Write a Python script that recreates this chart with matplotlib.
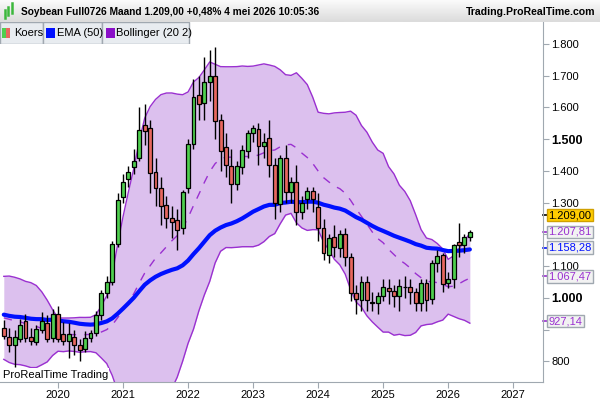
import numpy as np
import pandas as pd
import matplotlib
matplotlib.use("Agg")
import matplotlib.pyplot as plt
from matplotlib.patches import Rectangle

plt.rcParams["font.family"] = ["Liberation Sans", "DejaVu Sans"]

# monthly candles Mar 2019 .. May 2026
opens = [906,878,850,871,928,877,862,900,920,875,948,887,865,878,850,838,875,890,946,1016,
         1050,1170,1317,1373,1411,1442,1546,1536,1395,1345,1292,1251,1245,1220,1345,1486,1640,1615,1680,1700,
         1560,1474,1414,1360,1411,1464,1518,1533,1477,1505,1417,1295,1440,1333,1364,1270,1310,1336,1285,1220,
         1135,1191,1157,1200,1129,1016,994,1050,988,985,1006,1030,1022,1006,1033,1035,1019,985,1047,997,
         1110,1135,1047,1060,1175,1166,1191]
closes = [881,850,877,915,875,865,902,928,870,950,872,865,885,850,837,875,890,946,1016,1050,
          1170,1307,1364,1398,1430,1530,1527,1392,1345,1289,1251,1240,1213,1333,1486,1634,1612,1680,1700,1558,
          1464,1420,1360,1414,1467,1518,1536,1477,1490,1417,1298,1440,1335,1364,1270,1300,1336,1310,1220,1140,
          1188,1160,1200,1129,1016,997,1050,994,985,1006,1035,1022,1006,1036,1034,1020,985,1047,994,1110,
          1132,1044,1060,1166,1166,1191,1209]
highs = [930,905,900,935,950,905,915,955,945,965,975,925,920,900,870,895,900,960,1025,1070,
         1180,1330,1390,1415,1470,1600,1610,1560,1440,1380,1320,1290,1280,1340,1500,1690,1700,1760,1780,1790,
         1580,1520,1470,1430,1480,1530,1545,1550,1520,1560,1440,1450,1480,1380,1420,1320,1350,1350,1330,1250,
         1200,1230,1215,1220,1140,1040,1070,1070,1020,1020,1060,1060,1040,1060,1070,1060,1030,1060,1060,1120,
         1150,1140,1080,1170,1235,1200,1215]
lows = [870,830,783,860,860,850,850,890,860,860,860,850,810,820,800,830,860,880,930,1000,
        1040,1160,1300,1350,1390,1430,1480,1330,1290,1230,1220,1190,1150,1200,1330,1470,1560,1560,1620,1500,
        1400,1380,1300,1340,1390,1440,1490,1420,1440,1380,1250,1270,1300,1300,1230,1250,1280,1270,1180,1120,
        1110,1130,1130,1100,990,950,960,960,960,950,990,980,970,960,1000,980,960,960,960,980,
        1080,1020,1030,1030,1130,1140,1180]
# earlier monthly closes (Mar 2015 .. Feb 2019), only used to warm up the indicators
history_closes = [970,960,930,1040,960,890,890,900,870,890,
                  880,870,910,1010,1080,1170,1020,990,950,990,990,1000,
                  1020,1040,950,960,920,1000,960,940,970,980,990,960,
                  990,1040,1040,1050,1000,880,860,860,850,860,880,900,
                  910,900]
# last indicator values as shown on the right-hand axis
last_price = 1209.00
last_upper = 1207.81
last_ema = 1158.28
last_mid = 1067.47
last_lower = 927.14
years = ["2020","2021","2022","2023","2024","2025","2026","2027"]
year_idx = [10,22,34,46,58,70,82,94]
ytick_vals = [800,900,1000,1100,1200,1300,1400,1500,1600,1700,1800]

o = np.array(opens, float); c = np.array(closes, float)
h = np.maximum(np.array(highs, float), np.maximum(o, c))
l = np.minimum(np.array(lows, float), np.minimum(o, c))
n = len(c); x = np.arange(n)
allc = pd.Series(list(history_closes) + list(closes), dtype=float)
ema = allc.ewm(span=50, adjust=False).mean().values[-n:]
mid = allc.rolling(20).mean().values[-n:]
sd = allc.rolling(20).std(ddof=0).values[-n:]
up = mid + 2*sd; lo = mid - 2*sd

def fmt(v):
    s = f"{v:,.2f}"
    return s.replace(",", "X").replace(".", ",").replace("X", ".")

FS = 8
fig = plt.figure(figsize=(6, 4), dpi=100)
ax = fig.add_axes([0, 18/400, 543/600, 360/400])
ax.set_xlim(-0.70, 99.5)
ax.set_ylim(735, 1869)

purple = "#9a30d0"
ax.fill_between(x, lo, up, color="#dcc0ee", lw=0, zorder=1)
ax.plot(x, up, color=purple, lw=1, zorder=2)
ax.plot(x, lo, color=purple, lw=1, zorder=2)
ax.plot(x, mid, color=purple, lw=1, ls=(0, (6, 6)), zorder=2)
ax.plot(x, ema, color="#0010ff", lw=3, zorder=4, solid_capstyle="round")

w = 0.72
for i in range(n):
    ax.vlines(x[i], l[i], h[i], color="black", lw=1, zorder=5)
    col = "#4fcf4f" if c[i] >= o[i] else "#e8675f"
    b = min(o[i], c[i]); hh = max(abs(c[i]-o[i]), 2)
    ax.add_patch(Rectangle((x[i]-w/2, b), w, hh, facecolor=col, edgecolor="black", lw=0.9, zorder=6))

for s in ["top", "left"]:
    ax.spines[s].set_visible(False)
for s in ["right", "bottom"]:
    ax.spines[s].set_color("#a0a8b0")
ax.yaxis.tick_right()
ax.set_yticks(ytick_vals)
ax.set_yticklabels([f"{v/1000:.3f}" if v >= 1000 else str(v) for v in ytick_vals], fontsize=FS)
for lab, v in zip(ax.get_yticklabels(), ytick_vals):
    if v in (1000, 1500):
        lab.set_fontweight("bold"); lab.set_fontsize(9)
    if v in (900, 1200):
        lab.set_visible(False)
ax.set_xticks(year_idx)
ax.set_xticklabels(years, fontsize=FS)
ax.tick_params(colors="#a0a8b0", labelcolor="black", length=4, pad=2)
ax.text(0.005, 0.012, "ProRealTime Trading", transform=ax.transAxes, fontsize=FS, zorder=10,
        bbox=dict(facecolor="white", edgecolor="none", pad=1))

def tag(v, text, tc, fc="#f2f2f2", ec="#a0a8b0"):
    ax.annotate(text, xy=(1.0, v), xycoords=("axes fraction", "data"), xytext=(4, 0),
                textcoords="offset points", va="center", ha="left", fontsize=FS, color=tc,
                bbox=dict(boxstyle="square,pad=0.12", facecolor=fc, edgecolor=ec, lw=1),
                annotation_clip=False, zorder=20)
    ax.plot([1.0, 1.01], [v, v], transform=ax.get_yaxis_transform(), color=tc, lw=1.2, clip_on=False)

tag(last_price + 52, fmt(last_price), "black", fc="#ffcc00", ec="#d0a000")
tag(last_upper, fmt(last_upper), purple)
tag(last_ema, fmt(last_ema), "#0010ff")
tag(last_mid, fmt(last_mid), purple)
tag(last_lower, fmt(last_lower), purple)

# header bar
hdr = fig.add_axes([0, 378/400, 1, 22/400])
hdr.imshow(np.linspace(0.98, 0.86, 20).reshape(-1, 1), cmap="gray", vmin=0, vmax=1,
           aspect="auto", extent=[0, 1, 0, 1])
hdr.set_xlim(0, 1); hdr.set_ylim(0, 1); hdr.axis("off")
for xi, yb, yt in [(0.008, 0.2, 0.55), (0.014, 0.3, 0.7), (0.020, 0.4, 0.85)]:
    hdr.plot([xi, xi], [yb, yt], color="#3cb83c", lw=1.8)
hdr.text(0.035, 0.45, "Soybean Full0726 Maand 1.209,00 +0,48% 4 mei 2026 10:05:36", fontsize=7.3,
         fontweight="bold", va="center", ha="left")
hdr.text(0.993, 0.45, "Trading.ProRealTime.com", fontsize=7.6, fontweight="bold", va="center", ha="right")

# legend boxes
leg = fig.add_axes([0, 356/400, 1, 22/400]); leg.set_xlim(0, 600); leg.set_ylim(0, 22); leg.axis("off")
items = [(0, 43, "Koers"), (43, 102, "EMA (50)"), (102, 189, "Bollinger (20 2)")]
for (x0, x1, t) in items:
    leg.add_patch(Rectangle((x0, 0), x1-x0, 22, facecolor="#e8ecf0", edgecolor="#a0a8b0", lw=1))
    leg.text(x0+14, 11, t, fontsize=FS, va="center")
leg.add_patch(Rectangle((2, 6), 4, 10, facecolor="#4fcf4f", lw=0))
leg.add_patch(Rectangle((6, 6), 4, 10, facecolor="#e8675f", lw=0))
leg.add_patch(Rectangle((46, 6), 9, 10, facecolor="#0010ff", lw=0))
leg.add_patch(Rectangle((106, 6), 9, 10, facecolor="#8a10c8", lw=0))

fig.savefig("out.png", dpi=100)
